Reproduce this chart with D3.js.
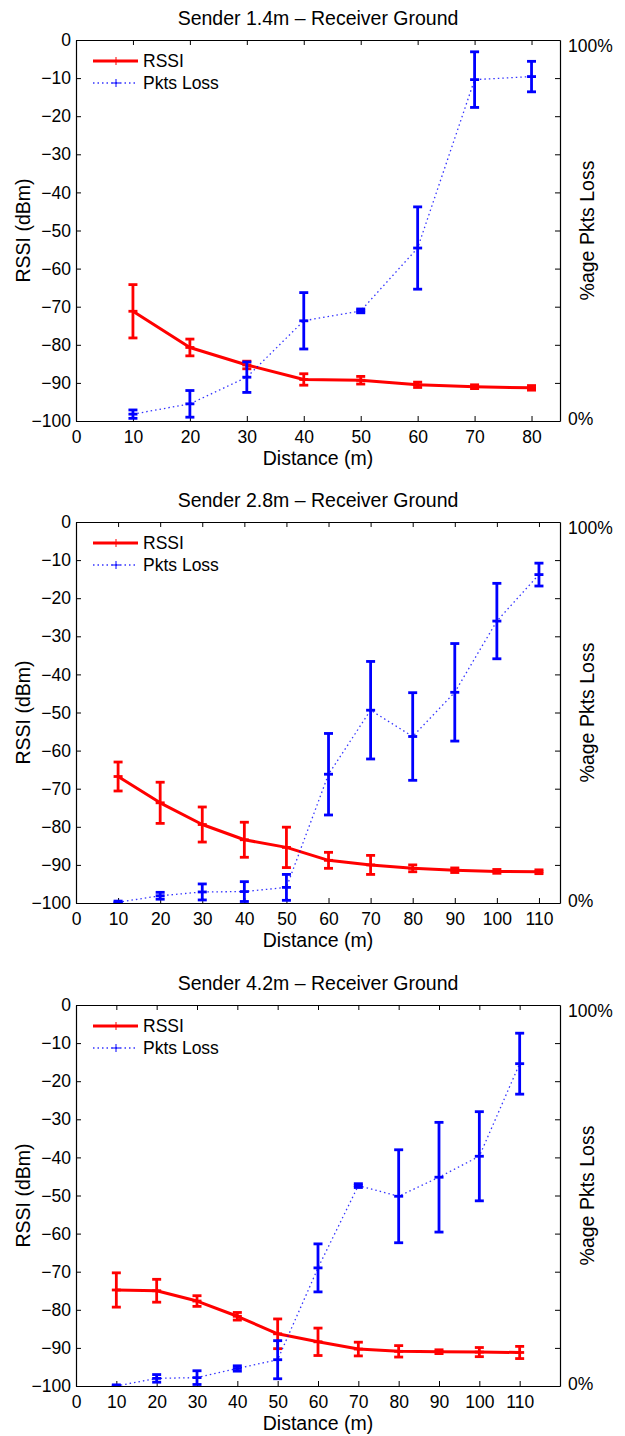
<!DOCTYPE html>
<html>
<head>
<meta charset="utf-8">
<script src="https://cdn.jsdelivr.net/npm/d3@7"></script>
<style>
body { margin: 0; background: #fff; }
text { font-family: "Liberation Sans", Arial, sans-serif; fill: #000; }
</style>
</head>
<body>
<div class="chart"></div>
<script>
var dist1 = [10, 20, 30, 40, 50, 60, 70, 80];
var rssi1 = [-71.2, -80.7, -85.3, -89.1, -89.3, -90.5, -91.0, -91.3];
var rssiErr1 = [7.0, 2.2, 1.0, 1.5, 1.0, 0.7, 0.5, 0.6];
var loss1 = [1.8, 4.5, 11.5, 26.3, 28.9, 45.4, 89.6, 90.4];
var lossErr1 = [1.1, 3.5, 4.0, 7.4, 0.5, 10.8, 7.3, 4.0];

var dist2 = [10, 20, 30, 40, 50, 60, 70, 80, 90, 100, 110];
var rssi2 = [-66.8, -73.7, -79.4, -83.4, -85.4, -88.8, -90.0, -90.9, -91.4, -91.7, -91.8];
var rssiErr2 = [3.8, 5.4, 4.6, 4.6, 5.3, 2.1, 2.5, 0.9, 0.6, 0.5, 0.5];
var loss2 = [0.2, 1.9, 2.9, 3.0, 4.1, 33.8, 50.6, 43.7, 55.3, 74.0, 86.2];
var lossErr2 = [0.3, 0.9, 2.1, 2.6, 3.4, 10.7, 12.8, 11.5, 12.8, 9.9, 3.0];

var dist3 = [10, 20, 30, 40, 50, 60, 70, 80, 90, 100, 110];
var rssi3 = [-74.8, -75.0, -77.7, -81.7, -86.3, -88.4, -90.3, -90.9, -91.0, -91.1, -91.2];
var rssiErr3 = [4.5, 3.0, 1.4, 1.0, 3.9, 3.6, 1.8, 1.5, 0.5, 1.2, 1.6];
var loss3 = [0.0, 2.0, 2.2, 4.6, 6.9, 31.0, 52.6, 49.8, 54.8, 60.3, 84.6];
var lossErr3 = [0.3, 1.0, 1.8, 0.7, 5.0, 6.3, 0.5, 12.2, 14.4, 11.7, 8.0];

var titles = ['Sender 1.4m \u2013 Receiver Ground', 'Sender 2.8m \u2013 Receiver Ground', 'Sender 4.2m \u2013 Receiver Ground'];
var xMax = [85, 115, 120];
var rssiTicks = d3.range(-100, 1, 10);
var lossTickLabels = ['0%', '100%'];
var seriesNames = ['RSSI', 'Pkts Loss'];

var panels = [
	{title: titles[0], dist: dist1, rssi: rssi1, rssiErr: rssiErr1, loss: loss1, lossErr: lossErr1, xMax: xMax[0]},
	{title: titles[1], dist: dist2, rssi: rssi2, rssiErr: rssiErr2, loss: loss2, lossErr: lossErr2, xMax: xMax[1]},
	{title: titles[2], dist: dist3, rssi: rssi3, rssiErr: rssiErr3, loss: loss3, lossErr: lossErr3, xMax: xMax[2]}
];

var margin = {left: 76, right: 65};
var width = 625 - margin.left - margin.right;
var height = 381;
var panelTop = [40, 522, 1005];
var red = '#ff0000', blue = '#0000ff';

var svg = d3.select('.chart')
	.append('svg')
		.attr('width', 625)
		.attr('height', 1436);

function plus(sel, s) {
	return sel.append('path').attr('d', `M${-s},0H${s}M0,${-s}V${s}`);
}

function errorBars(g, p, vals, errs, x, y, color, w) {
	var bars = g.selectAll(null)
		.data(p.dist.map((d, i) => ({d: d, v: vals[i], e: errs[i]})))
		.enter()
		.append('g')
			.attr('stroke', color)
			.attr('stroke-width', w)
			.attr('fill', 'none');
	bars.append('line')
		.attr('x1', d => x(d.d)).attr('x2', d => x(d.d))
		.attr('y1', d => y(d.v - d.e)).attr('y2', d => y(d.v + d.e));
	bars.append('line')
		.attr('x1', d => x(d.d) - 4.5).attr('x2', d => x(d.d) + 4.5)
		.attr('y1', d => y(d.v - d.e)).attr('y2', d => y(d.v - d.e));
	bars.append('line')
		.attr('x1', d => x(d.d) - 4.5).attr('x2', d => x(d.d) + 4.5)
		.attr('y1', d => y(d.v + d.e)).attr('y2', d => y(d.v + d.e));
	bars.append('line')
		.attr('x1', d => x(d.d) - 4.5).attr('x2', d => x(d.d) + 4.5)
		.attr('y1', d => y(d.v)).attr('y2', d => y(d.v));
}

panels.forEach(function(p, i) {
	var g = svg.append('g')
		.attr('transform', `translate(${margin.left}, ${panelTop[i]})`);

	var x = d3.scaleLinear().domain([0, p.xMax]).range([0, width]);
	var y = d3.scaleLinear().domain([-100, 0]).range([height, 0]);
	var yLoss = d3.scaleLinear().domain([0, 100]).range([height, 0]);
	var xTicks = d3.range(0, p.xMax, 10);

	g.append('clipPath').attr('id', 'clip' + i)
		.append('rect').attr('width', width).attr('height', height);

	var axisStyle = function(a) {
		a.selectAll('.domain').attr('stroke', '#000').attr('stroke-width', 1.2);
		a.selectAll('.tick line').attr('stroke', '#000');
		a.selectAll('text').style('font-size', '17.5px').attr('fill', '#000');
	};

	g.append('g')
		.call(d3.axisLeft(y).tickValues(rssiTicks).tickFormat(d3.format('d')).tickSizeInner(-5).tickSizeOuter(0).tickPadding(5))
		.call(axisStyle);
	g.append('g')
		.attr('transform', `translate(0, ${height})`)
		.call(d3.axisBottom(x).tickValues(xTicks).tickSizeInner(-5).tickSizeOuter(0).tickPadding(10))
		.call(axisStyle);
	g.append('g')
		.call(d3.axisTop(x).tickValues(xTicks).tickFormat('').tickSizeInner(-5).tickSizeOuter(0))
		.call(axisStyle);
	g.append('g')
		.attr('transform', `translate(${width}, 0)`)
		.call(d3.axisRight(y).tickValues(rssiTicks).tickFormat('').tickSizeInner(-5).tickSizeOuter(0))
		.call(axisStyle);

	g.selectAll('.lossLabel')
		.data(lossTickLabels)
		.enter()
		.append('text')
			.attr('x', width + 8)
			.attr('y', (d, j) => j ? yLoss(100) + 6 : yLoss(0) - 2)
			.attr('dy', '0.35em')
			.style('font-size', '17.5px')
			.text(d => d);

	g.append('text')
		.attr('x', width / 2)
		.attr('y', -22)
		.attr('dy', '0.35em')
		.attr('text-anchor', 'middle')
		.style('font-size', '19.5px')
		.text(p.title);
	g.append('text')
		.attr('x', width / 2)
		.attr('y', height + 37)
		.attr('dy', '0.35em')
		.attr('text-anchor', 'middle')
		.style('font-size', '19.5px')
		.text('Distance (m)');
	g.append('text')
		.attr('transform', `translate(${23 - margin.left}, ${height / 2}) rotate(-90)`)
		.attr('dy', '0.35em')
		.attr('text-anchor', 'middle')
		.style('font-size', '19.5px')
		.text('RSSI (dBm)');
	g.append('text')
		.attr('transform', `translate(${width + 27}, ${height / 2}) rotate(-90)`)
		.attr('dy', '0.35em')
		.attr('text-anchor', 'middle')
		.style('font-size', '19.5px')
		.text('%age Pkts Loss');

	var plot = g.append('g').attr('clip-path', `url(#clip${i})`);

	var rssiLine = d3.line().x((d, j) => x(p.dist[j])).y(d => y(d));
	plot.append('path')
		.attr('d', rssiLine(p.rssi))
		.attr('fill', 'none')
		.attr('stroke', red)
		.attr('stroke-width', 3)
		.attr('stroke-linejoin', 'round');
	errorBars(plot, p, p.rssi, p.rssiErr, x, y, red, 2.8);

	var lossLine = d3.line().x((d, j) => x(p.dist[j])).y(d => yLoss(d));
	plot.append('path')
		.attr('d', lossLine(p.loss))
		.attr('fill', 'none')
		.attr('stroke', blue)
		.attr('stroke-opacity', 0.8)
		.attr('stroke-width', 1.3)
		.attr('stroke-dasharray', '1.5,3');
	errorBars(plot, p, p.loss, p.lossErr, x, yLoss, blue, 2.8);

	var legend = g.append('g').attr('transform', 'translate(17, 0)');
	legend.append('line')
		.attr('x1', 0).attr('x2', 45).attr('y1', 21).attr('y2', 21)
		.attr('stroke', red).attr('stroke-width', 3);
	plus(legend.append('g').attr('transform', 'translate(23, 21)'), 4)
		.attr('stroke', red).attr('stroke-width', 1);
	legend.append('line')
		.attr('x1', 0).attr('x2', 45).attr('y1', 43).attr('y2', 43)
		.attr('stroke', blue).attr('stroke-opacity', 0.8).attr('stroke-width', 1.3).attr('stroke-dasharray', '1.5,3');
	plus(legend.append('g').attr('transform', 'translate(23, 43)'), 4)
		.attr('stroke', blue).attr('stroke-width', 1);
	legend.selectAll('.legendText')
		.data(seriesNames)
		.enter()
		.append('text')
			.attr('x', 50)
			.attr('y', (d, j) => 21 + j * 22)
			.attr('dy', '0.35em')
			.style('font-size', '17.5px')
			.text(d => d);
});
</script>
</body>
</html>
